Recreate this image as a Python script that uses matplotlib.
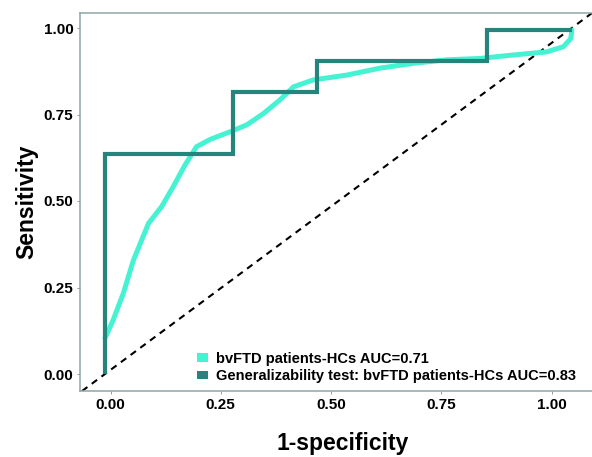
import matplotlib
matplotlib.use("Agg")
import matplotlib.pyplot as plt
from matplotlib.patches import Patch

plt.rcParams['font.family'] = ['Liberation Sans', 'DejaVu Sans']

# Generalizability test ROC (step curve), in displayed axis coordinates
gen_fpr = [-0.0125, -0.0125, 0.277, 0.277, 0.468, 0.468, 0.854, 0.854, 1.046]
gen_tpr = [0.0, 0.636, 0.636, 0.815, 0.815, 0.905, 0.905, 0.994, 0.994]

# bvFTD patients-HCs smoothed ROC curve
bv_fpr = [-0.0125, 0.006, 0.029, 0.052, 0.086, 0.116, 0.142, 0.169, 0.195, 0.226,
          0.271, 0.309, 0.347, 0.384, 0.415, 0.460, 0.536, 0.611, 0.687, 0.762,
          0.838, 0.913, 0.989, 1.027, 1.044, 1.046]
bv_tpr = [0.103, 0.156, 0.233, 0.329, 0.435, 0.484, 0.541, 0.604, 0.657, 0.678,
          0.700, 0.720, 0.753, 0.792, 0.830, 0.850, 0.864, 0.884, 0.898, 0.908,
          0.912, 0.922, 0.931, 0.946, 0.970, 0.994]

# chance diagonal through the curves' start and end points
diag_p1 = (-0.0125, 0.0)
diag_p2 = (1.046, 1.0)

labels = ["bvFTD patients-HCs AUC=0.71",
          "Generalizability test: bvFTD patients-HCs AUC=0.83"]
colors = ["#45F2D2", "#25857D"]
xticks = [0.0, 0.25, 0.5, 0.75, 1.0]
yticks = [0.0, 0.25, 0.5, 0.75, 1.0]

W, H = 592, 457
fig = plt.figure(figsize=(W / 100, H / 100), dpi=100)
L, R, T, B = 80, 606, 13, 391
ax = fig.add_axes([L / W, (H - B) / H, (R - L) / W, (B - T) / H])

ax.axline(diag_p1, diag_p2, color="black", lw=1.5, ls=(0, (3.2, 2.6)), zorder=1)
ax.plot(bv_fpr, bv_tpr, color=colors[0], lw=3.6, solid_capstyle="round",
        solid_joinstyle="round", zorder=2)
ax.plot(gen_fpr, gen_tpr, color=colors[1], lw=3.0, solid_joinstyle="miter",
        solid_capstyle="butt", zorder=3)

ax.set_xlim((L - 110.5) / 441, (R - 110.5) / 441)
ax.set_ylim((374 - B) / 346, (374 - T) / 346)
ax.set_xticks(xticks)
ax.set_yticks(yticks)
ax.set_xticklabels([f"{v:.2f}" for v in xticks])
ax.set_yticklabels([f"{v:.2f}" for v in yticks])
ax.tick_params(axis="both", length=2.2, width=0.7, color="#999999",
               labelsize=11, pad=2.5)
for lab in ax.get_xticklabels() + ax.get_yticklabels():
    lab.set_fontweight("bold")

for s in ax.spines.values():
    s.set_color("#8FA6A6")
    s.set_linewidth(1.1)

ax.set_xlabel("1-specificity", fontsize=16.5, fontweight="bold", labelpad=15)
ax.set_ylabel("Sensitivity", fontsize=16.5, fontweight="bold", labelpad=4)

handles = [Patch(facecolor=c, edgecolor="none") for c in colors]
fig.legend(handles, labels, loc="upper left",
           bbox_to_anchor=(197 / W, 1 - 352 / H), frameon=False,
           prop={"weight": "bold", "size": 10.5}, handlelength=0.72,
           handleheight=0.55, handletextpad=0.6, labelspacing=0.22,
           borderpad=0, borderaxespad=0)

fig.savefig("out.png", dpi=100)
